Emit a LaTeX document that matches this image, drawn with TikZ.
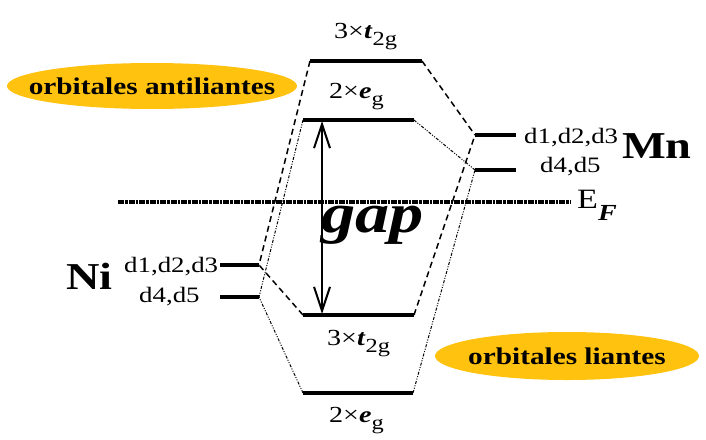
\documentclass[tikz,border=0pt]{standalone}
\usepackage{fontspec}
\setmainfont[FakeStretch=1.22]{Liberation Serif}
\usetikzlibrary{arrows.meta,shapes.geometric}
\definecolor{gold}{RGB}{255,194,14}
\newcommand{\fsz}[1]{\fontsize{#1}{#1}\selectfont}
\tikzset{
  level/.style={line width=3.2pt},
  tline/.style={line width=1.5pt, dash pattern=on 6pt off 4pt},
  eline/.style={line width=1pt, dash pattern=on 3pt off 1.5pt on 1pt off 1.5pt on 1pt off 1.5pt},
  efline/.style={line width=3.4pt, dash pattern=on 6pt off 1pt on 2.5pt off 1pt},
  lab/.style={inner sep=0pt, anchor=base west},
  bubble/.style={ellipse, fill=gold, inner sep=0pt},
  btext/.style={inner sep=0pt, font=\fsz{24}\bfseries},
}
\begin{document}
\begin{tikzpicture}[x=1pt,y=-1pt]
\useasboundingbox (0,0) rectangle (706,439);
% ellipses
\node[bubble, minimum width=290pt, minimum height=46pt] (anti) at (152,86) {};
\node[btext] (antit) at (anti) {orbitales antiliantes};
\node[bubble, minimum width=264pt, minimum height=48pt] (liant) at (567,356) {};
\node[btext] (liantt) at (liant) {orbitales liantes};
% level endpoints
\coordinate (tTa) at (310,61);  \coordinate (tTb) at (422,61);
\coordinate (uEa) at (303,120); \coordinate (uEb) at (414,120);
\coordinate (lTa) at (303,315); \coordinate (lTb) at (414,315);
\coordinate (lEa) at (303,393); \coordinate (lEb) at (413,393);
\coordinate (m1a) at (475,135); \coordinate (m1b) at (516,135);
\coordinate (m4a) at (475,170); \coordinate (m4b) at (516,170);
\coordinate (n1a) at (220,265); \coordinate (n1b) at (259,265);
\coordinate (n4a) at (220,297); \coordinate (n4b) at (259,297);
\coordinate (efa) at (118,202); \coordinate (efb) at (570,202);
\coordinate (ga) at (322,121);  \coordinate (gb) at (322,314);
% Fermi level
\draw[efline] (efa) -- (efb);
% connectors
\draw[tline] (tTa) -- (n1b);
\draw[tline] (lTa) -- (n1b);
\draw[tline] (tTb) -- (m1a);
\draw[tline] (lTb) -- (m1a);
\draw[eline] (uEa) -- (n4b);
\draw[eline] (lEa) -- (n4b);
\draw[eline] (uEb) -- (m4a);
\draw[eline] (lEb) -- (m4a);
% levels
\draw[level] (tTa) -- (tTb);
\draw[level] (uEa) -- (uEb);
\draw[level] (lTa) -- (lTb);
\draw[level] (lEa) -- (lEb);
\draw[level] (m1a) -- (m1b);
\draw[level] (m4a) -- (m4b);
\draw[level] (n1a) -- (n1b);
\draw[level] (n4a) -- (n4b);
% gap arrow
\draw[line width=2pt, {Straight Barb[length=24pt,width=16pt]}-{Straight Barb[length=24pt,width=16pt]}] (ga) -- (gb);
% labels
\node[lab] (ltT) at (334,38) {\fsz{23}3×\textbf{\textit{t}}\raisebox{-7pt}{\fsz{20}2g}};
\node[lab] (luE) at (329,98) {\fsz{23}2×\textbf{\textit{e}}\raisebox{-7pt}{\fsz{20}g}};
\node[lab] (llT) at (327,345) {\fsz{23}3×\textbf{\textit{t}}\raisebox{-7pt}{\fsz{20}2g}};
\node[lab] (llE) at (329,422) {\fsz{23}2×\textbf{\textit{e}}\raisebox{-7pt}{\fsz{20}g}};
\node[lab] (lm1) at (524,143) {\fsz{22}d1,d2,d3};
\node[lab] (lm4) at (540,172) {\fsz{22}d4,d5};
\node[lab] (lMn) at (622,158) {\fsz{38}\bfseries Mn};
\node[lab] (ln1) at (124,272) {\fsz{22}d1,d2,d3};
\node[lab] (ln4) at (139,302) {\fsz{22}d4,d5};
\node[lab] (lNi) at (66,289) {\fsz{38}\bfseries Ni};
\node[lab] (lEF) at (577,208) {\fsz{28}E\raisebox{-12pt}{\fsz{23}\bfseries\itshape F}};
\node[lab] (lgap) at (321,232) {\fsz{56}\bfseries\itshape gap};
\end{tikzpicture}
\end{document}
